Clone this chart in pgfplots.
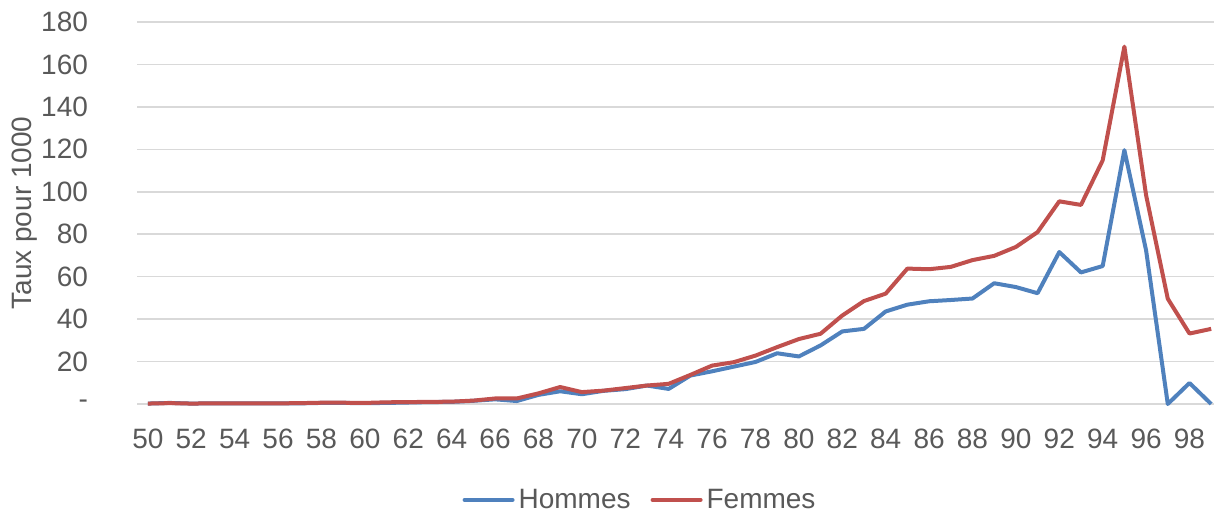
\documentclass[border=0pt]{standalone}
\usepackage{fontspec}
\setmainfont{Liberation Sans}
\usepackage{pgfplots}
\pgfplotsset{compat=1.18}

\definecolor{hommes}{HTML}{4F81BD}
\definecolor{femmes}{HTML}{C0504D}
\definecolor{txt}{HTML}{595959}
\definecolor{grille}{HTML}{D9D9D9}

\pgfplotstableread{
age hommes femmes
50 0.2 0.2
51 0.5 0.4
52 0.2 0.2
53 0.3 0.3
54 0.3 0.3
55 0.3 0.3
56 0.3 0.3
57 0.3 0.4
58 0.5 0.6
59 0.5 0.6
60 0.4 0.5
61 0.5 0.8
62 0.7 0.9
63 0.9 1.0
64 1.0 1.1
65 1.5 1.6
66 2.2 2.6
67 1.4 2.6
68 4.3 5.0
69 6.0 8.0
70 4.6 5.6
71 6.2 6.3
72 7.0 7.5
73 8.7 8.7
74 7.1 9.5
75 13.4 13.7
76 15.4 18.1
77 17.6 19.7
78 19.8 22.8
79 23.9 26.8
80 22.4 30.6
81 27.6 33.1
82 34.2 41.7
83 35.4 48.5
84 43.6 52.0
85 46.8 63.8
86 48.4 63.5
87 49.0 64.6
88 49.7 67.8
89 56.9 69.8
90 55.1 74.0
91 52.2 81.0
92 71.6 95.5
93 62.0 93.8
94 65.0 114.8
95 119.6 168.4
96 72.4 98.4
97 0.0 49.6
98 9.9 33.2
99 0.0 35.4
}\taux

\begin{document}
\begin{tikzpicture}
\path[use as bounding box] (-68.5pt,-54pt) rectangle (538.5pt,202pt);
\begin{axis}[
  at={(0,0)}, anchor=south west,
  scale only axis,
  width=538.5pt, height=191pt,
  xmin=49.5, xmax=99.13,
  ymin=0, ymax=180,
  clip=false,
  xtick={50,52,...,98},
  ytick={0,20,...,180},
  yticklabels={{-\hspace{15pt}},20,40,60,80,100,120,140,160,180},
  /pgf/number format/assume math mode=true,
  major tick length=0pt,
  axis line style={draw=none},
  ymajorgrids,
  grid style={grille, line width=0.75pt},
  tick label style={font=\fontsize{14}{16}\selectfont, text=txt},
  xticklabel style={yshift=-9pt},
  yticklabel style={xshift=-21pt},
  ylabel={Taux pour 1000},
  ylabel style={font=\fontsize{14}{16}\selectfont, text=txt,
    at={(axis description cs:-0.104,0.5)}, anchor=center},
  legend columns=2,
  legend style={draw=none, fill=none, font=\fontsize{14}{16}\selectfont,
    text=txt, at={(0.468,-0.251)}, anchor=center,
    /tikz/every even column/.append style={column sep=8pt}},
  legend image code/.code={\draw[#1, line cap=round] (0pt,0pt) -- (24pt,0pt);},
]
\addplot[hommes, line width=2pt, line join=round] table[x=age, y=hommes] {\taux};
\addlegendentry{Hommes}
\addplot[femmes, line width=2pt, line join=round] table[x=age, y=femmes] {\taux};
\addlegendentry{Femmes}
\end{axis}
\end{tikzpicture}
\end{document}
